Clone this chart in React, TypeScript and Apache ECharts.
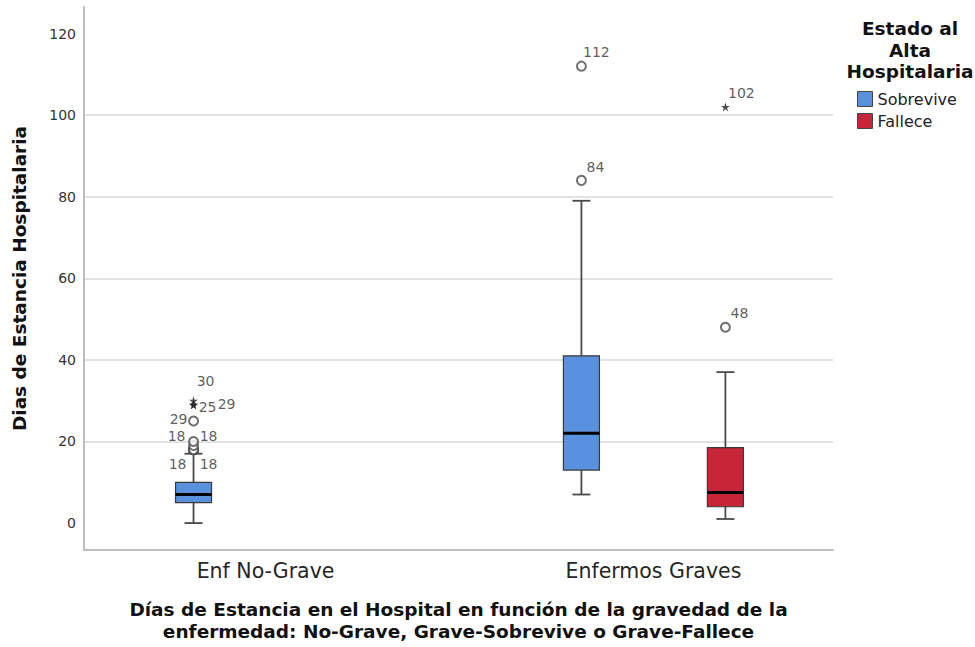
import React, { useEffect, useRef } from "react";
import * as echarts from "echarts";

// Clinical groups on the horizontal axis and the discharge status used to split them
const categories = ["Enf No-Grave", "Enfermos Graves"];
const groups = ["Sobrevive", "Fallece"];

// Box statistics per category: [min, Q1, median, Q3, max] (null = no cases)
const sobreviveBoxes: (number[] | null)[] = [
  [0, 5, 7, 10, 17],
  [7, 13, 22, 41, 79],
];
const falleceBoxes: (number[] | null)[] = [null, [1, 4, 7.5, 18.5, 37]];

// Outliers (circles) and extreme values (stars) per category
const sobreviveOutliers: number[][] = [[18, 18, 18, 18, 19, 20, 25], [84, 112]];
const sobreviveExtremes: number[][] = [[29, 29, 30], []];
const falleceOutliers: number[][] = [[], [48]];
const falleceExtremes: number[][] = [[], [102]];

const yTicks = [0, 20, 40, 60, 80, 100, 120];

// Layout / styling
const FONT = "DejaVu Sans, Verdana, sans-serif";
const COLORS = ["#5A91DE", "#C72638"];
const GROUP_SHIFT = [-0.1856, 0.1856];
const BOX_HALF = 18;
const CAP_HALF = 9;
const STAR =
  "path://M50,0 L61,35 L98,35 L68,57 L79,91 L50,70 L21,91 L32,57 L2,35 L39,35 Z";

// Label placement for individual outliers: key "group|category|index" -> [dx, dy]
const labelOffsets: Record<string, [number, number]> = {
  "0|0|o0": [-17, -14],
  "0|0|o1": [15, -14],
  "0|0|o2": [-16, 14],
  "0|0|o3": [15, 14],
  "0|0|o6": [14, -14],
  "0|0|e0": [-15, 14],
  "0|0|e1": [33, -1],
  "0|0|e2": [12, -20],
  "0|1|o0": [14, -13],
  "0|1|o1": [15, -14],
  "1|1|o0": [14, -14],
  "1|1|e0": [16, -14],
};

const xPos = (g: number, c: number) => c + 1 + GROUP_SHIFT[g];

function boxData(g: number, boxes: (number[] | null)[]) {
  const out: number[][] = [];
  boxes.forEach((b, c) => {
    if (b) out.push([xPos(g, c), ...b]);
  });
  return out;
}

function pointData(g: number, lists: number[][], kind: string) {
  const out: any[] = [];
  lists.forEach((vals, c) => {
    vals.forEach((v, i) => {
      const off = labelOffsets[`${g}|${c}|${kind}${i}`];
      out.push({
        value: [xPos(g, c), v],
        label: off
          ? { show: true, position: "inside", offset: off }
          : { show: false },
      });
    });
  });
  return out;
}

function renderBox(params: any, api: any) {
  const x = api.value(0);
  const pt = (v: number) => api.coord([x, v]);
  const [cx, yMin] = pt(api.value(1));
  const yQ1 = pt(api.value(2))[1];
  const yMed = pt(api.value(3))[1];
  const yQ3 = pt(api.value(4))[1];
  const yMax = pt(api.value(5))[1];
  const whisker = { stroke: "#4a4a4a", lineWidth: 1.8 };
  return {
    type: "group",
    children: [
      { type: "line", shape: { x1: cx, y1: yMax, x2: cx, y2: yQ3 }, style: whisker },
      { type: "line", shape: { x1: cx, y1: yQ1, x2: cx, y2: yMin }, style: whisker },
      { type: "line", shape: { x1: cx - CAP_HALF, y1: yMax, x2: cx + CAP_HALF, y2: yMax }, style: whisker },
      { type: "line", shape: { x1: cx - CAP_HALF, y1: yMin, x2: cx + CAP_HALF, y2: yMin }, style: whisker },
      {
        type: "rect",
        shape: { x: cx - BOX_HALF, y: yQ3, width: BOX_HALF * 2, height: yQ1 - yQ3 },
        style: { fill: api.visual("color"), stroke: "#3a3a3a", lineWidth: 1.2 },
      },
      {
        type: "line",
        shape: { x1: cx - BOX_HALF, y1: yMed, x2: cx + BOX_HALF, y2: yMed },
        style: { stroke: "#000", lineWidth: 3 },
      },
    ],
  };
}

const pointLabel = {
  formatter: (p: any) => String(p.value[1]),
  color: "#333",
  fontSize: 14,
  fontFamily: FONT,
};

export default function App() {
  const ref = useRef<HTMLDivElement>(null);

  useEffect(() => {
    if (!ref.current) return;
    const chart = echarts.init(ref.current, undefined, { renderer: "svg" });

    const boxSeries = [sobreviveBoxes, falleceBoxes].map((boxes, g) => ({
      name: groups[g],
      type: "custom",
      xAxisIndex: 0,
      yAxisIndex: 0,
      itemStyle: { color: COLORS[g], borderColor: "#3a3a3a", borderWidth: 1 },
      encode: { x: 0, y: [1, 2, 3, 4, 5] },
      renderItem: renderBox,
      data: boxData(g, boxes),
      z: 2,
    }));

    const pointSeries: any[] = [];
    [
      [sobreviveOutliers, sobreviveExtremes],
      [falleceOutliers, falleceExtremes],
    ].forEach(([outs, exts], g) => {
      pointSeries.push({
        name: groups[g] + " atípicos",
        type: "scatter",
        symbol: "emptyCircle",
        symbolSize: 9,
        itemStyle: { color: "#4a4a4a", borderWidth: 1 },
        label: pointLabel,
        data: pointData(g, outs, "o"),
        z: 3,
      });
      pointSeries.push({
        name: groups[g] + " extremos",
        type: "scatter",
        symbol: STAR,
        symbolSize: 9,
        itemStyle: { color: "#222" },
        label: pointLabel,
        data: pointData(g, exts, "e"),
        z: 3,
      });
    });

    chart.setOption({
      animation: false,
      backgroundColor: "#fff",
      grid: { left: 84, right: 142, top: 7, bottom: 96 },
      xAxis: {
        type: "value",
        min: 0.532,
        max: 2.463,
        axisLine: { show: true, onZero: false, lineStyle: { color: "#bdbdbd", width: 2 } },
        axisTick: { show: false },
        splitLine: { show: false },
        axisLabel: {
          customValues: [1, 2],
          formatter: (v: number) => categories[Math.round(v) - 1] ?? "",
          fontSize: 20.5,
          fontFamily: FONT,
          color: "#262626",
          margin: 10,
        },
        name:
          "Días de Estancia en el Hospital en función de la gravedad de la\nenfermedad: No-Grave, Grave-Sobrevive o Grave-Fallece",
        nameLocation: "middle",
        nameGap: 48,
        nameTextStyle: {
          fontSize: 18.5,
          fontWeight: "bold",
          fontFamily: FONT,
          color: "#111",
          lineHeight: 22,
          align: "center",
        },
      },
      yAxis: {
        type: "value",
        min: -6.6,
        max: 126.5,
        axisLine: { show: true, lineStyle: { color: "#bdbdbd", width: 2 } },
        axisTick: { show: false, customValues: yTicks },
        axisLabel: {
          customValues: yTicks,
          fontSize: 14,
          fontFamily: FONT,
          color: "#333",
          margin: 8,
        },
        splitLine: {
          show: true,
          showMinLine: false,
          showMaxLine: false,
          lineStyle: { color: "#d9d9d9", width: 1.5 },
        },
        name: "Dias de Estancia Hospitalaria",
        nameLocation: "middle",
        nameRotate: 90,
        nameGap: 55,
        nameTextStyle: {
          fontSize: 18.5,
          fontWeight: "bold",
          fontFamily: FONT,
          color: "#111",
        },
      },
      legend: {
        data: groups,
        orient: "vertical",
        left: 857,
        top: 91,
        padding: 0,
        itemWidth: 15,
        itemHeight: 15,
        itemGap: 6,
        icon: "rect",
        itemStyle: { borderColor: "#444", borderWidth: 1 },
        textStyle: { fontSize: 16, fontFamily: FONT, color: "#222" },
      },
      graphic: [
        {
          type: "text",
          x: 910,
          y: 18,
          style: {
            text: "Estado al\nAlta\nHospitalaria",
            textAlign: "center",
            textVerticalAlign: "top",
            fontSize: 18.5,
            fontWeight: "bold",
            fontFamily: FONT,
            fill: "#111",
            lineHeight: 21.5,
          },
        },
      ],
      series: [...boxSeries, ...pointSeries],
    });

    return () => chart.dispose();
  }, []);

  return (
    <div
      ref={ref}
      style={{ position: "fixed", left: 0, top: 0, width: 975, height: 647 }}
    />
  );
}
